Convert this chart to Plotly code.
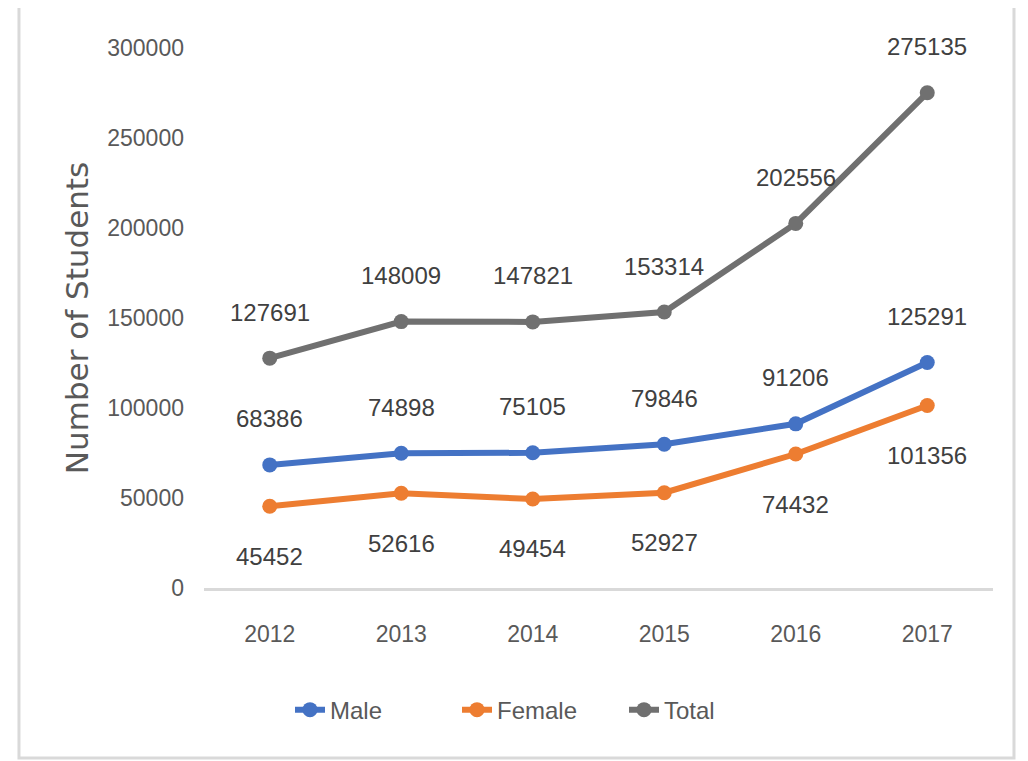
import plotly.graph_objects as go

years = [2012, 2013, 2014, 2015, 2016, 2017]
male = [68386, 74898, 75105, 79846, 91206, 125291]
female = [45452, 52616, 49454, 52927, 74432, 101356]
total = [127691, 148009, 147821, 153314, 202556, 275135]
y_ticks = [0, 50000, 100000, 150000, 200000, 250000, 300000]

FONT = "Liberation Sans, Arial, sans-serif"
TXT = "#595959"

series = [
    ("Male", male, "#4472C4", 46),
    ("Female", female, "#ED7D31", -50),
    ("Total", total, "#707070", 46),
]

fig = go.Figure()
for name, vals, color, shift in series:
    fig.add_trace(go.Scatter(
        x=years, y=vals, name=name, mode="lines+markers",
        line=dict(color=color, width=6),
        marker=dict(color=color, size=15),
    ))

annotations = []
for name, vals, color, shift in series:
    for x, v in zip(years, vals):
        annotations.append(dict(
            x=x, y=v, xref="x", yref="y", text=str(v), showarrow=False,
            yshift=shift, font=dict(family=FONT, size=24, color="#404040"),
        ))

fig.update_layout(
    width=1028, height=761,
    margin=dict(l=196, r=43, t=40, b=181),
    paper_bgcolor="white", plot_bgcolor="white",
    font=dict(family=FONT, color=TXT),
    showlegend=True,
    legend=dict(orientation="h", x=0.109, xanchor="left", y=-0.226, yanchor="middle",
                font=dict(family=FONT, size=24, color=TXT),
                entrywidth=122, entrywidthmode="pixels"),
    annotations=annotations,
    shapes=[dict(type="rect", xref="paper", yref="paper",
                 x0=-0.2345, x1=1.0266, y0=-0.3148, y1=1.0778,
                 line=dict(color="#D9D9D9", width=3), layer="below")],
)
fig.update_xaxes(range=[2011.5, 2017.5], tickvals=years, tickformat="d", showgrid=False,
                 zeroline=False, showline=True, linecolor="#D9D9D9", linewidth=3,
                 ticks="", ticklabelstandoff=23,
                 tickfont=dict(family=FONT, size=23, color=TXT))
fig.update_yaxes(range=[0, 300000], tickvals=y_ticks, tickformat="d", showgrid=False,
                 zeroline=False, showline=False, ticks="", ticklabelstandoff=19,
                 tickfont=dict(family=FONT, size=23, color=TXT),
                 title=dict(text="Number of Students", standoff=9,
                            font=dict(family="DejaVu Sans, sans-serif", size=31, color=TXT)))

fig.write_html("out.html")
